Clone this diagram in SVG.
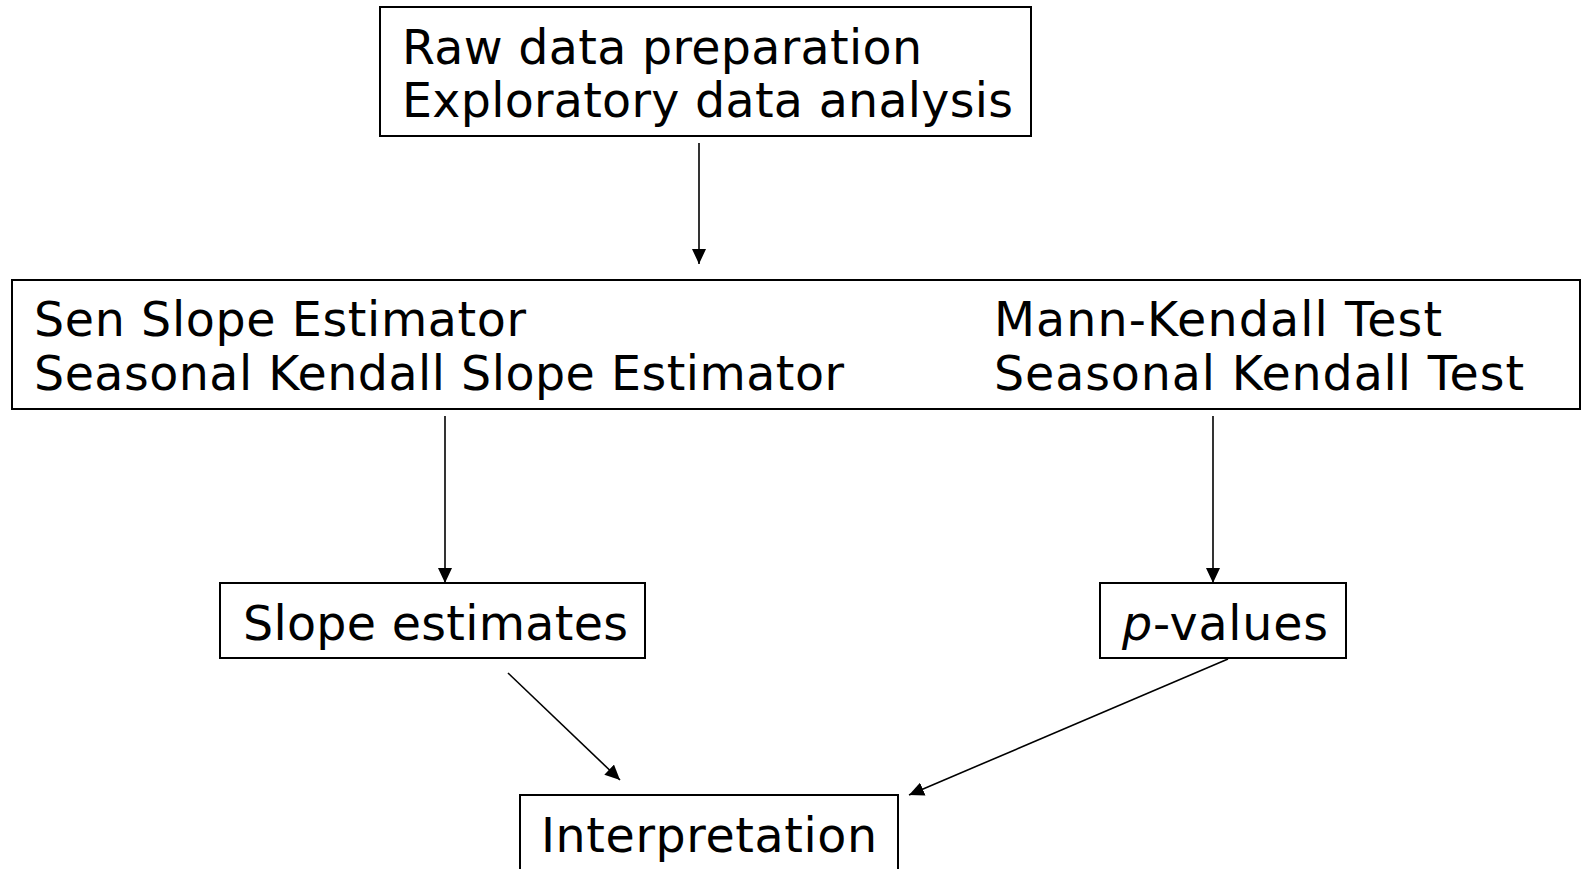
<svg xmlns="http://www.w3.org/2000/svg" width="1585" height="869" viewBox="0 0 1585 869">
<style>
.box{fill:#fff;stroke:#000;stroke-width:2}
.t{font-family:"DejaVu Sans",Verdana,sans-serif;font-size:47.5px;fill:#000}
.c{stroke:#000;stroke-width:1.6;fill:none}
</style>
<defs>
<marker id="ah" markerUnits="userSpaceOnUse" markerWidth="16" markerHeight="14" refX="15" refY="7" orient="auto">
<path d="M0,0 L15,7 L0,14 z" fill="#000"/>
</marker>
</defs>
<rect width="1585" height="869" fill="#fff"/>
<g id="raw">
<rect class="box" x="380" y="7" width="651" height="129"/>
<text class="t" x="402" y="64" textLength="520" lengthAdjust="spacing">Raw data preparation</text>
<text class="t" x="402" y="117" textLength="611" lengthAdjust="spacing">Exploratory data analysis</text>
</g>
<g id="methods">
<rect class="box" x="12" y="280" width="1568" height="129"/>
<text class="t" x="34" y="336" textLength="492" lengthAdjust="spacing">Sen Slope Estimator</text>
<text class="t" x="34" y="390" textLength="810" lengthAdjust="spacing">Seasonal Kendall Slope Estimator</text>
<text class="t" x="994" y="336" textLength="448" lengthAdjust="spacing">Mann-Kendall Test</text>
<text class="t" x="994" y="390" textLength="530" lengthAdjust="spacing">Seasonal Kendall Test</text>
</g>
<g id="slope">
<rect class="box" x="220" y="583" width="425" height="75"/>
<text class="t" x="243" y="640" textLength="385" lengthAdjust="spacing">Slope estimates</text>
</g>
<g id="pvalues">
<rect class="box" x="1100" y="583" width="246" height="75"/>
<text class="t" x="1122" y="640" textLength="206" lengthAdjust="spacing"><tspan font-style="italic">p</tspan>-values</text>
</g>
<g id="interp">
<rect class="box" x="520" y="795" width="378" height="90"/>
<text class="t" x="541" y="852" textLength="336" lengthAdjust="spacing">Interpretation</text>
</g>
<g id="connectors">
<line class="c" x1="699" y1="143" x2="699" y2="264" marker-end="url(#ah)"/>
<line class="c" x1="445" y1="416" x2="445" y2="583" marker-end="url(#ah)"/>
<line class="c" x1="1213" y1="416" x2="1213" y2="583" marker-end="url(#ah)"/>
<line class="c" x1="508" y1="673" x2="620" y2="780" marker-end="url(#ah)"/>
<line class="c" x1="1228" y1="659" x2="909" y2="795" marker-end="url(#ah)"/>
</g>
</svg>
